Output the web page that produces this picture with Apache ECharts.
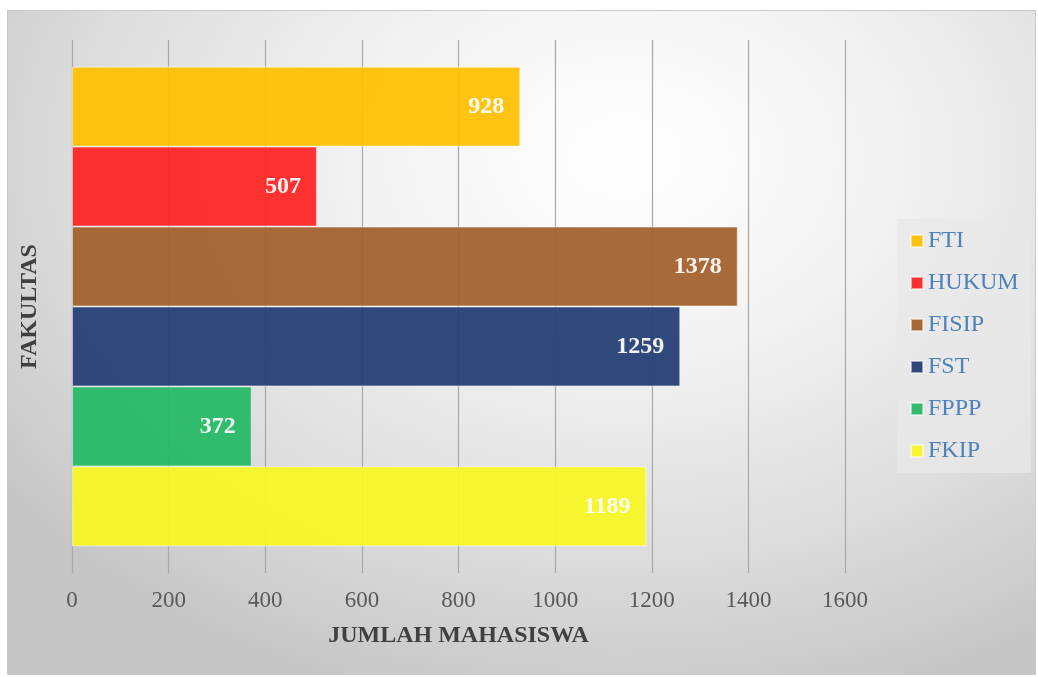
<!DOCTYPE html>
<html>
<head>
<meta charset="utf-8">
<script src="https://cdn.jsdelivr.net/npm/echarts@6/dist/echarts.min.js"></script>
<style>
  html, body { margin: 0; padding: 0; background: #ffffff; }
  #wrap { position: relative; width: 1038px; height: 677px; }
  #bg { position: absolute; left: 7px; top: 10px; width: 1027px; height: 663px;
        border: 1px solid #c9c9c9;
        background: radial-gradient(ellipse 75% 85% at 60% 22%, #ffffff 0%, #f2f2f2 35%, #dddddd 70%, #c6c6c6 100%); }
  #chart { position: absolute; left: 0; top: 0; width: 1038px; height: 677px; }
</style>
</head>
<body>
<div id="wrap"><div id="bg"></div><div id="chart"></div></div>
<script>
// Data (legend order, top to bottom)
const faculties = ['FTI', 'HUKUM', 'FISIP', 'FST', 'FPPP', 'FKIP'];
const students  = [928, 507, 1378, 1259, 372, 1189];
const barColors = ['#FFC000', '#FF2222', '#A25F2A', '#213B73', '#22B864', '#F8F822'];
const xTicks    = [0, 200, 400, 600, 800, 1000, 1200, 1400, 1600];

const chart = echarts.init(document.getElementById('chart'), null, { renderer: 'canvas' });

// first series is drawn at the top of the band
const series = faculties.map((name, i) => ({
  name: name,
  type: 'bar',
  data: [students[i]],
  barGap: '0%',
  barCategoryGap: '10%',
  itemStyle: { color: barColors[i], opacity: 0.93, borderColor: 'rgba(255,255,255,0.55)', borderWidth: 1 },
  label: {
    show: true, position: 'insideRight', distance: 16,
    color: '#ffffff', fontFamily: 'Liberation Serif', fontWeight: 'bold', fontSize: 24
  }
}));

chart.setOption({
  backgroundColor: 'transparent',
  animation: false,
  grid: { left: 72, right: 193, top: 40, bottom: 104, containLabel: false },
  legend: {
    data: faculties,
    orient: 'vertical',
    left: 897, top: 219,
    padding: [10, 12, 10, 13],
    itemGap: 18,
    itemWidth: 12, itemHeight: 12,
    icon: 'rect',
    backgroundColor: 'rgba(232,232,232,0.75)',
    textStyle: { color: '#4F81BD', fontFamily: 'Liberation Serif', fontSize: 24, lineHeight: 24 }
  },
  xAxis: {
    type: 'value', min: 0, max: 1600, interval: 200,
    axisLine: { show: false }, axisTick: { show: false },
    splitLine: { show: true, lineStyle: { color: '#a8a8a8', width: 1.2 } },
    axisLabel: { color: '#595959', fontFamily: 'Liberation Serif', fontSize: 23, margin: 16,
      formatter: v => xTicks.includes(v) ? String(v) : '' },
    name: 'JUMLAH MAHASISWA', nameLocation: 'middle', nameGap: 51,
    nameTextStyle: { color: '#404040', fontFamily: 'Liberation Serif', fontWeight: 'bold', fontSize: 24 }
  },
  yAxis: {
    type: 'category', data: ['Fakultas'],
    axisLine: { show: false }, axisTick: { show: false }, axisLabel: { show: false },
    name: 'FAKULTAS', nameLocation: 'middle', nameGap: 30, nameRotate: 90,
    nameTextStyle: { color: '#404040', fontFamily: 'Liberation Serif', fontWeight: 'bold', fontSize: 24 }
  },
  series: series
});
</script>
</body>
</html>
